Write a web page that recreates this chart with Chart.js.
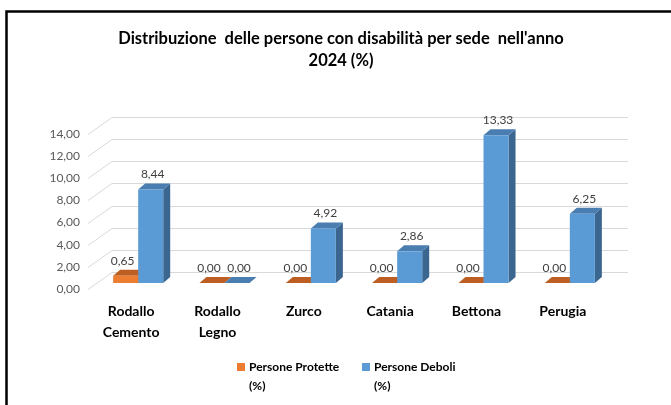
<!DOCTYPE html>
<html>
<head>
<meta charset="utf-8">
<script src="https://cdn.jsdelivr.net/npm/chart.js@4/dist/chart.umd.min.js"></script>
<style>
  html, body { margin: 0; padding: 0; background: #fff; }
  #wrap { width: 671px; height: 405px; position: relative; }
</style>
</head>
<body>
<div id="wrap"><canvas id="graphCanvas"></canvas></div>
<script>
var sedi = [['Rodallo', 'Cemento'], ['Rodallo', 'Legno'], 'Zurco', 'Catania', 'Bettona', 'Perugia'];
var protette = [0.65, 0, 0, 0, 0, 0];
var deboli = [8.44, 0, 4.92, 2.86, 13.33, 6.25];
var serieNomi = [['Persone Protette', '(%)'], ['Persone Deboli', '(%)']];
var yTicks = [0, 2, 4, 6, 8, 10, 12, 14];

var FONT = "Lato, 'Open Sans', sans-serif";
var colFront = ['#ED7D31', '#5B9BD5'];
var colTop = ['#BD5F22', '#4A7DB0'];
var colSide = ['#A9541C', '#3B6690'];
var DX = 7, DY = 6;

function virgola(v) {
    return v.toFixed(2).replace('.', ',');
}

// gridlines on the back wall + side wall, then top/side faces of the bars
var bars3d = {
    id: 'bars3d',
    beforeDatasetsDraw: function (chart) {
        var ctx = chart.ctx;
        var y = chart.scales.y;
        var area = chart.chartArea;
        ctx.save();
        ctx.strokeStyle = '#d9d9d9';
        ctx.lineWidth = 1;
        yTicks.forEach(function (v) {
            var py = Math.round(y.getPixelForValue(v)) + 0.5;
            ctx.beginPath();
            ctx.moveTo(area.left - 7, py + 6);
            ctx.lineTo(area.left + 17, py - 11);
            ctx.lineTo(area.right + 15, py - 11);
            ctx.stroke();
        });
        for (var i = 0; i < sedi.length; i++) {
            for (var d = 0; d < chart.data.datasets.length; d++) {
                var b = chart.getDatasetMeta(d).data[i];
                var x0 = b.x - b.width / 2, x1 = b.x + b.width / 2;
                var top = b.y, base = b.base;
                ctx.fillStyle = colSide[d];
                ctx.beginPath();
                ctx.moveTo(x1, top);
                ctx.lineTo(x1 + DX, top - DY);
                ctx.lineTo(x1 + DX, base - DY);
                ctx.lineTo(x1, base);
                ctx.closePath();
                ctx.fill();
                ctx.fillStyle = colTop[d];
                ctx.beginPath();
                ctx.moveTo(x0, top);
                ctx.lineTo(x1, top);
                ctx.lineTo(x1 + DX, top - DY);
                ctx.lineTo(x0 + DX, top - DY);
                ctx.closePath();
                ctx.fill();
            }
        }
        ctx.restore();
    },
    afterDatasetsDraw: function (chart) {
        var ctx = chart.ctx;
        ctx.save();
        ctx.font = '12px ' + FONT;
        ctx.fillStyle = '#404040';
        ctx.textAlign = 'center';
        ctx.textBaseline = 'middle';
        chart.data.datasets.forEach(function (ds, d) {
            var shift = d === 0 ? -3 : 2;
            chart.getDatasetMeta(d).data.forEach(function (b, i) {
                ctx.fillText(virgola(ds.data[i]), b.x + shift, b.y - 15);
            });
        });
        ctx.restore();
    },
    afterDraw: function (chart) {
        var ctx = chart.ctx;
        ctx.save();
        // legend
        var lx = [237, 362];
        ctx.font = 'bold 12px ' + FONT;
        ctx.textBaseline = 'middle';
        ctx.textAlign = 'left';
        serieNomi.forEach(function (nome, d) {
            ctx.fillStyle = colFront[d];
            ctx.fillRect(lx[d], 363, 8, 8);
            ctx.fillStyle = '#000';
            ctx.fillText(nome[0], lx[d] + 12, 367);
            ctx.fillText(nome[1], lx[d] + 12, 386);
        });
        // outer frame
        ctx.strokeStyle = '#000';
        ctx.lineWidth = 2.5;
        ctx.beginPath();
        ctx.moveTo(6.5, 405);
        ctx.lineTo(6.5, 11.5);
        ctx.lineTo(671, 11.5);
        ctx.stroke();
        ctx.restore();
    }
};

var chartdata = {
    labels: sedi,
    datasets: [
        {
            label: serieNomi[0].join(' '),
            backgroundColor: colFront[0],
            borderWidth: 0,
            data: protette
        },
        {
            label: serieNomi[1].join(' '),
            backgroundColor: colFront[1],
            borderWidth: 0,
            data: deboli
        }
    ]
};

var graphTarget = document.getElementById('graphCanvas');

var barGraph = new Chart(graphTarget, {
    type: 'bar',
    data: chartdata,
    plugins: [bars3d],
    options: {
        responsive: true,
        maintainAspectRatio: false,
        animation: false,
        layout: { padding: { left: 11, right: 0, top: 0, bottom: 52 } },
        categoryPercentage: 0.58,
        barPercentage: 1.0,
        plugins: {
            legend: { display: false },
            tooltip: { enabled: false },
            title: {
                display: true,
                text: ["Distribuzione  delle persone con disabilità per sede  nell'anno", '2024 (%)'],
                color: '#000',
                font: { family: FONT, size: 16.5, weight: 'bold', lineHeight: 1.36 },
                padding: { top: 27, bottom: 56 }
            }
        },
        scales: {
            x: {
                grid: { display: false },
                border: { display: false },
                ticks: {
                    color: '#000',
                    font: { family: FONT, size: 14, weight: 'bold', lineHeight: 1.5 },
                    padding: 10,
                    labelOffset: -7,
                    maxRotation: 0,
                    autoSkip: false
                }
            },
            y: {
                min: 0,
                max: 14,
                grid: { display: false, drawTicks: false },
                border: { display: false },
                afterFit: function (s) { s.width = 84; },
                ticks: {
                    stepSize: 2,
                    color: '#595959',
                    font: { family: FONT, size: 12 },
                    padding: 15,
                    labelOffset: 6,
                    callback: function (v) { return virgola(v); }
                }
            },
            destra: {
                type: 'linear',
                position: 'right',
                grid: { display: false, drawTicks: false },
                border: { display: false },
                ticks: { display: false },
                afterFit: function (s) { s.width = 58; }
            }
        }
    }
});
</script>
</body>
</html>
